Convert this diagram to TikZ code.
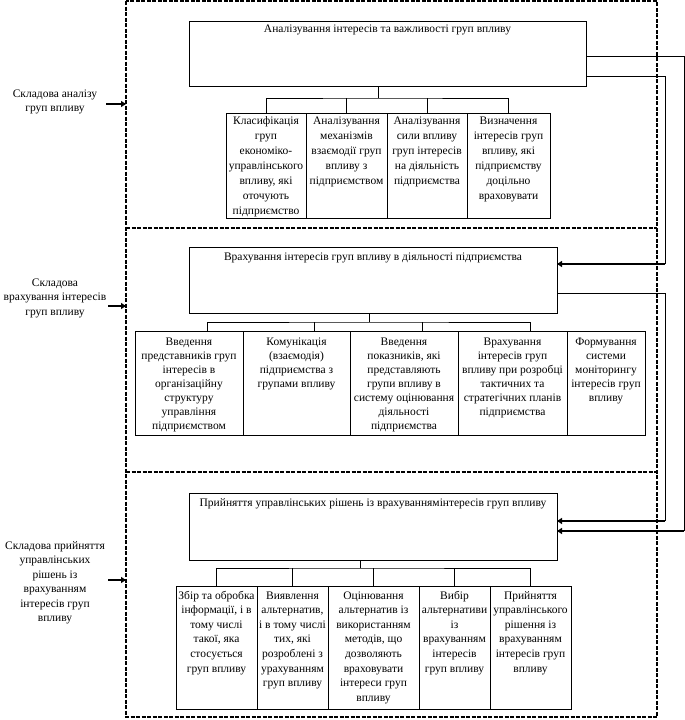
\documentclass[tikz,border=0pt]{standalone}
\usepackage{fontspec}
\setmainfont{Liberation Serif}
\usetikzlibrary{arrows.meta}

% text of a cell, line breaks kept as given
\newcommand{\celltext}[1]{\begin{tabular}[t]{@{}c@{}}#1\end{tabular}}

\begin{document}
\begin{tikzpicture}[x=1pt,y=-1pt,line width=0.9pt,
    >={Triangle[length=5pt,width=6pt]},
    font=\fontsize{11.5}{14.5}\selectfont]
    \tikzset{
        frame/.style={anchor=north west,inner sep=0pt,outer sep=0pt},
        dashline/.style={line width=1.4pt,dash pattern=on 4pt off 1.5pt},
        stage/.style={draw,anchor=north west,inner sep=1pt,outer sep=0pt},
        cell/.style={draw,anchor=north west,inner sep=1pt,outer sep=0pt},
        rowa/.style={cell,text height=10pt,text depth=93pt,
            font=\fontsize{11.5}{15}\selectfont},
        rowb/.style={cell,text height=13pt,text depth=89pt,
            font=\fontsize{11.5}{14}\selectfont},
        rowc/.style={cell,text height=12pt,text depth=109pt,
            font=\fontsize{11.5}{14.6}\selectfont},
        inarrow/.style={->,line width=2pt},
        side/.style={align=center}
    }
    \useasboundingbox (0,0) rectangle (685,720);

    % dashed frames of the three parts
    \node[frame,minimum width=531pt,minimum height=227pt] (f1) at (126,1) {};
    \node[frame,minimum width=531pt,minimum height=244pt] (f2) at (126,228) {};
    \node[frame,minimum width=531pt,minimum height=245pt] (f3) at (126,472) {};
    \draw[dashline] (f1.north west) rectangle (f3.south east);
    \draw[dashline] (f2.north west) -- (f2.north east);
    \draw[dashline] (f3.north west) -- (f3.north east);

    % part 1
    \node[stage,minimum width=397pt,text height=10pt,text depth=53pt] (m1) at (189,21)
        {Аналізування інтересів та важливості груп впливу};
    \node[rowa,minimum width=80pt] (c11) at (226,113)
        {\celltext{Класифікація\\груп\\економіко-\\управлінського\\впливу, які\\оточують\\підприємство}};
    \node[rowa,minimum width=81pt] (c12) at (306,113)
        {\celltext{Аналізування\\механізмів\\взаємодії груп\\впливу з\\підприємством}};
    \node[rowa,minimum width=80pt] (c13) at (387,113)
        {\celltext{Аналізування\\сили впливу\\груп інтересів\\на діяльність\\підприємства}};
    \node[rowa,minimum width=83pt] (c14) at (467,113)
        {\celltext{Визначення\\інтересів груп\\впливу, які\\підприємству\\доцільно\\враховувати}};

    % part 2
    \node[stage,minimum width=368pt,text height=12pt,text depth=52pt] (m2) at (189,247)
        {Врахування інтересів груп впливу в діяльності підприємства};
    \node[rowb,minimum width=108pt] (c21) at (135,331)
        {\celltext{Введення\\представників груп\\інтересів в\\організаційну\\структуру\\управління\\підприємством}};
    \node[rowb,minimum width=107pt] (c22) at (243,331)
        {\celltext{Комунікація\\(взаємодія)\\підприємства з\\групами впливу}};
    \node[rowb,minimum width=108pt] (c23) at (350,331)
        {\celltext{Введення\\показників, які\\представляють\\групи впливу в\\систему оцінювання\\діяльності\\підприємства}};
    \node[rowb,minimum width=109pt] (c24) at (458,331)
        {\celltext{Врахування\\інтересів груп\\впливу при розробці\\тактичних та\\стратегічних планів\\підприємства}};
    \node[rowb,minimum width=78pt] (c25) at (567,331)
        {\celltext{Формування\\системи\\моніторингу\\інтересів груп\\впливу}};

    % part 3
    \node[stage,minimum width=368pt,text height=12pt,text depth=53pt] (m3) at (189,493)
        {Прийняття управлінських рішень із врахуваннямінтересів груп впливу};
    \node[rowc,minimum width=81pt] (c31) at (176,586)
        {\celltext{Збір та обробка\\інформації, і в\\тому числі\\такої, яка\\стосується\\груп впливу}};
    \node[rowc,minimum width=71pt] (c32) at (257,586)
        {\celltext{Виявлення\\альтернатив,\\і в тому числі\\тих, які\\розроблені з\\урахуванням\\груп впливу}};
    \node[rowc,minimum width=91pt] (c33) at (328,586)
        {\celltext{Оцінювання\\альтернатив із\\використанням\\методів, що\\дозволяють\\враховувати\\інтереси груп\\впливу}};
    \node[rowc,minimum width=71pt] (c34) at (419,586)
        {\celltext{Вибір\\альтернативи\\із\\врахуванням\\інтересів\\груп впливу}};
    \node[rowc,minimum width=81pt] (c35) at (490,586)
        {\celltext{Прийняття\\управлінського\\рішення із\\врахуванням\\інтересів груп\\впливу}};

    % trees under the stage boxes
    \coordinate (j1) at (378,98);
    \draw (j1 |- m1.south) -- (j1);
    \draw (c11.north) |- (j1) -| (c14.north);
    \foreach \c in {c12,c13}
        \draw (\c.north) -- (\c.north |- j1);

    \coordinate (j2) at (369,322);
    \draw (j2 |- m2.south) -- (j2);
    \draw ([xshift=18pt]c21.north) |- (j2) -| ([xshift=18pt]c24.north);
    \foreach \c in {c22,c23}
        \draw ([xshift=18pt]\c.north) -- ([xshift=18pt]\c.north |- j2);

    \coordinate (j3) at (360,568);
    \draw (j3 |- m3.south) -- (j3);
    \draw (c31.north) |- (j3) -| (c35.north);
    \foreach \c in {c32,c33,c34}
        \draw (\c.north) -- (\c.north |- j3);

    % links on the right
    \coordinate (k1) at (684,56);
    \coordinate (k2) at (684,531);
    \draw (m1.east |- k1) -- (k1) -- (k2);
    \draw[inarrow] (k2) -- (k2 -| m3.east);
    \coordinate (k3) at (665,76);
    \coordinate (k4) at (665,264);
    \draw (m1.east |- k3) -- (k3) -- (k4);
    \draw[inarrow] (k4) -- (k4 -| m2.east);
    \coordinate (k5) at (665,293);
    \coordinate (k6) at (665,521);
    \draw (m2.east |- k5) -- (k5) -- (k6);
    \draw[inarrow] (k6) -- (k6 -| m3.east);

    % labels of the parts
    \node[side] (l1) at (55,102) {Складова аналізу\\груп впливу};
    \node[side] (l2) at (55,298) {Складова\\врахування інтересів\\груп впливу};
    \node[side] (l3) at (55,583)
        {Складова прийняття\\управлінських\\рішень із\\врахуванням\\інтересів груп\\впливу};
    \coordinate (a1) at (106,104);
    \coordinate (a2) at (108,306);
    \coordinate (a3) at (108,580);
    \draw[inarrow] (a1) -- (a1 -| f1.west);
    \draw[inarrow] (a2) -- (a2 -| f2.west);
    \draw[inarrow] (a3) -- (a3 -| f3.west);
\end{tikzpicture}
\end{document}
